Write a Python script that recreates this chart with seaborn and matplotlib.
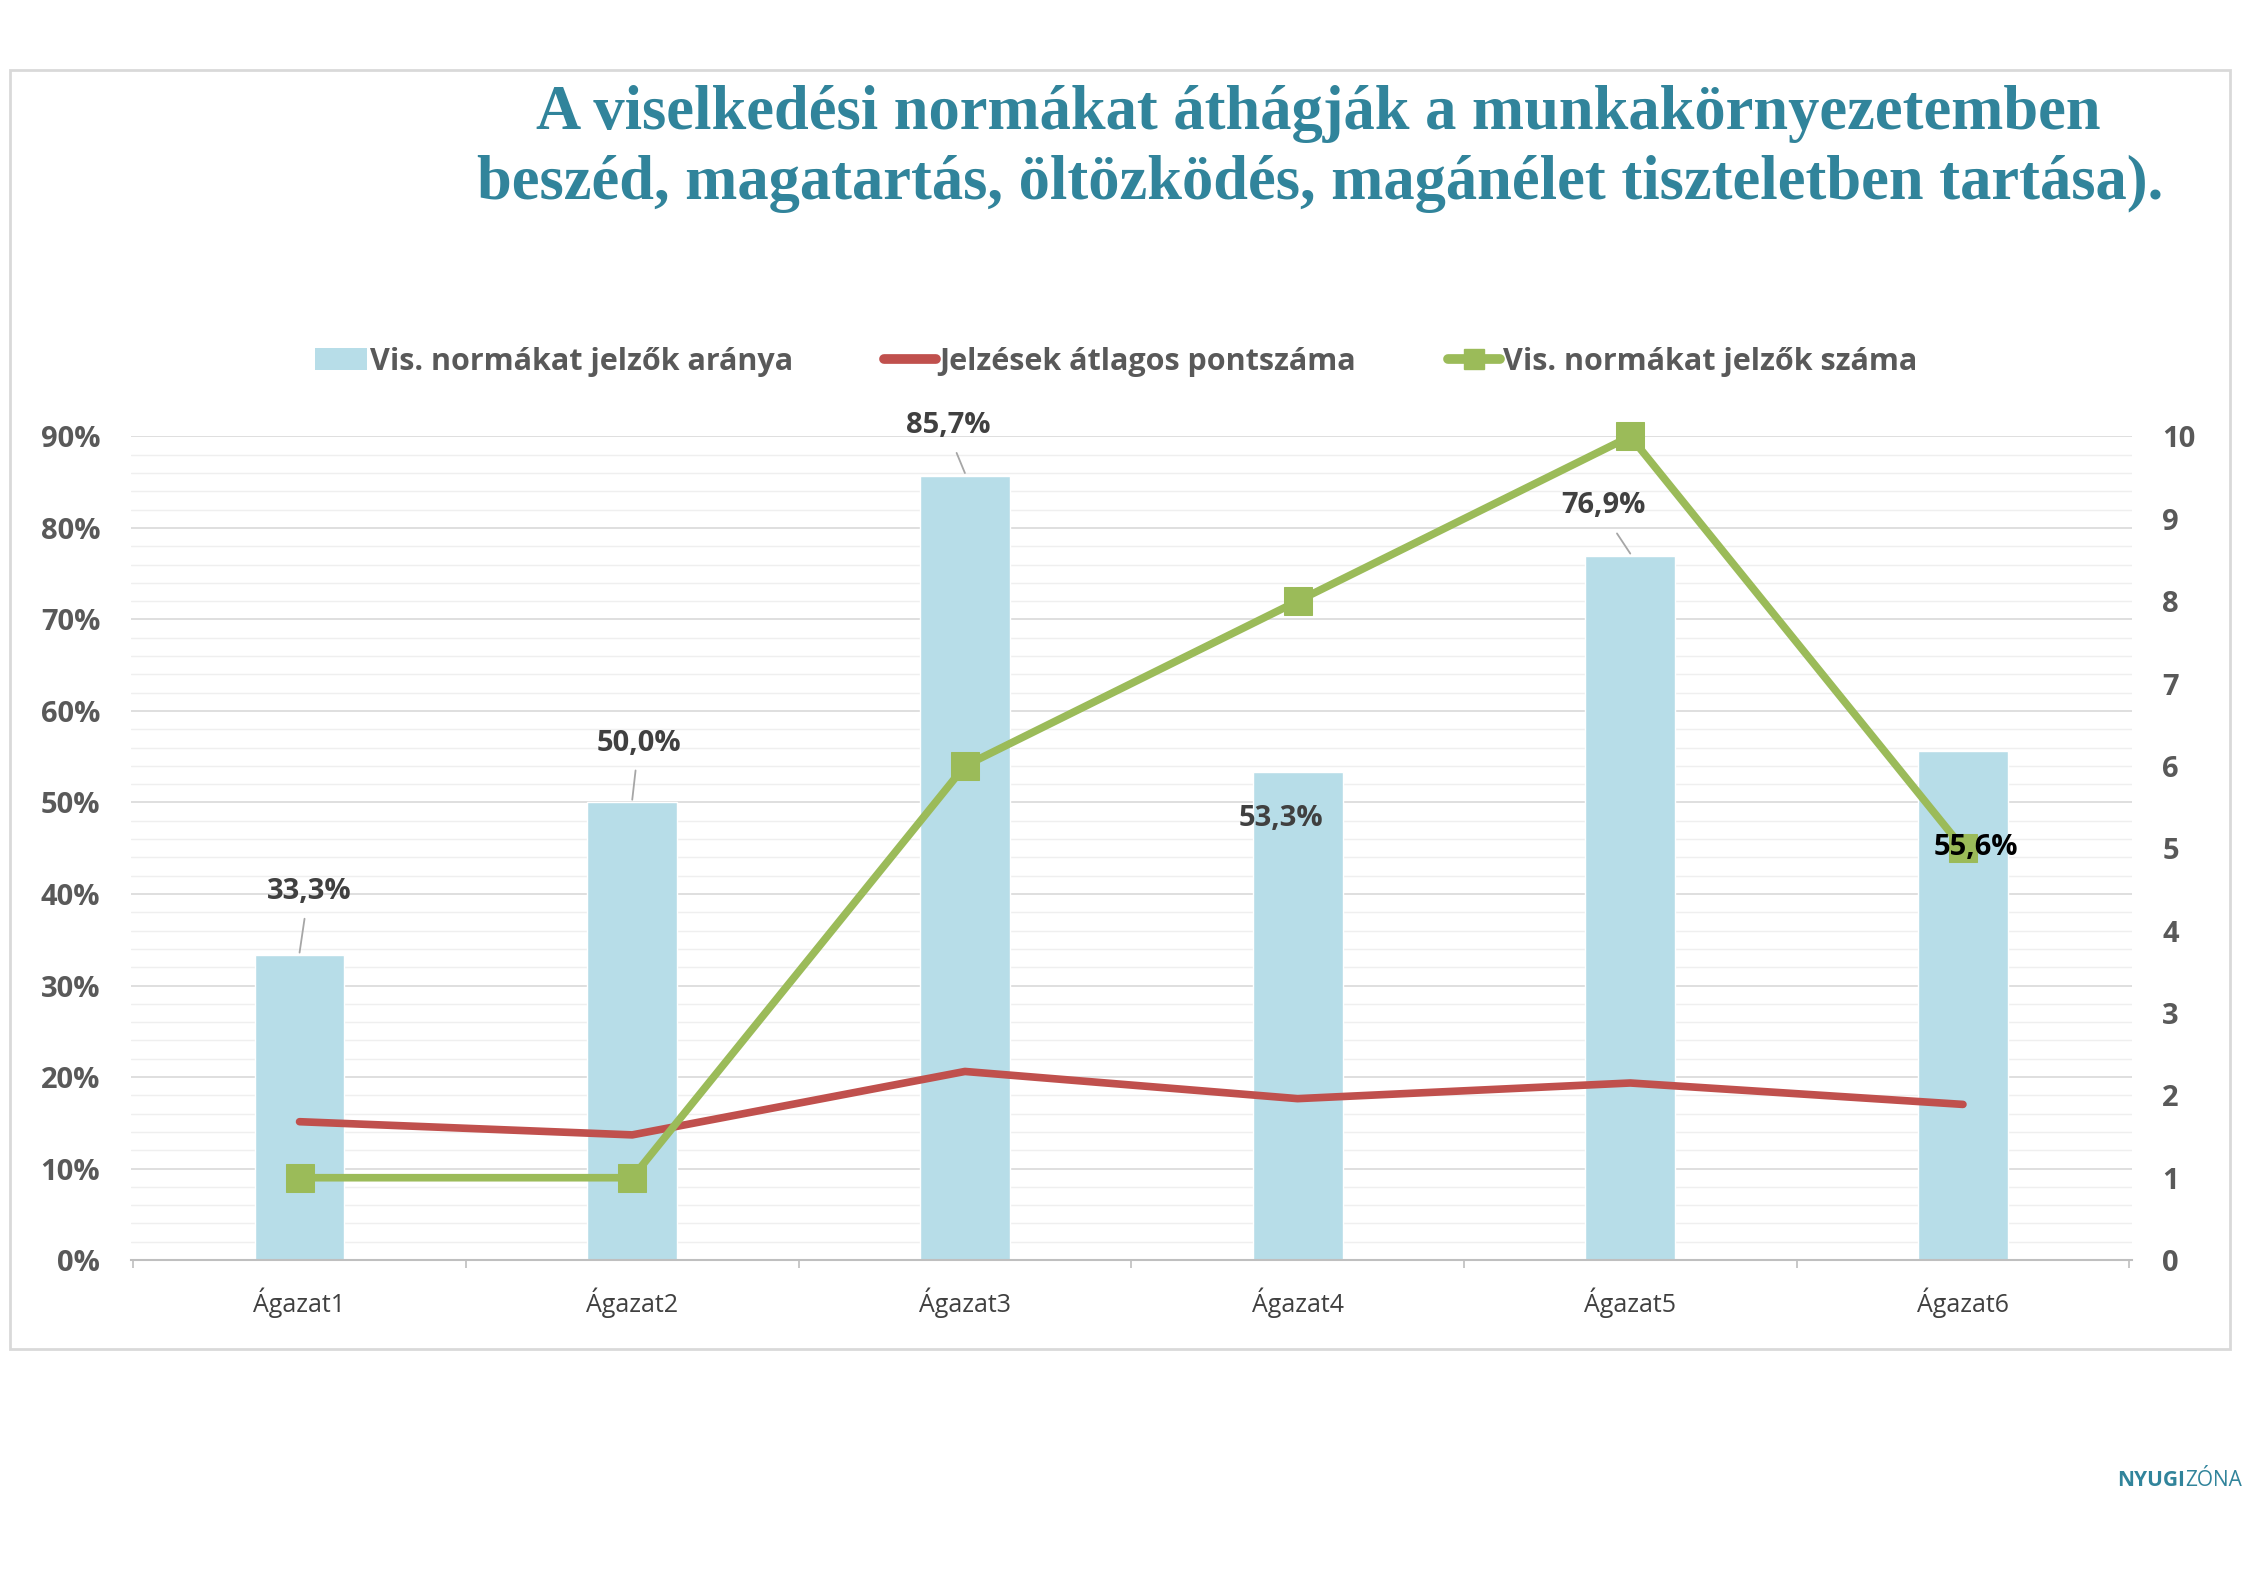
import matplotlib
matplotlib.use("Agg")
import matplotlib.pyplot as plt
import seaborn as sns
import numpy as np
import pandas as pd
from matplotlib.patches import Rectangle
from matplotlib.lines import Line2D
from matplotlib.patches import Patch

categories = ["Ágazat1", "Ágazat2", "Ágazat3", "Ágazat4", "Ágazat5", "Ágazat6"]
arany = [33.3, 50.0, 85.7, 53.3, 76.9, 55.6]
pontszam = [1.68, 1.52, 2.29, 1.96, 2.15, 1.89]
szam = [1, 1, 6, 8, 10, 5]
label_offsets = [(0.03, 7), (0.02, 6.5), (-0.05, 5.5), (-0.05, -5), (-0.08, 5.5), (0.04, -10.5)]

sns.set_theme(style="white")
plt.rcParams['font.family'] = ['Open Sans', 'DejaVu Sans']

BLUE = "#B7DDE8"; RED = "#C0504D"; GREEN = "#9BBB59"; GRAY = "#595959"; TEAL = "#31849B"

fig = plt.figure(figsize=(22.45, 15.87), dpi=100)
fig.patches.append(Rectangle((0.0045, 0.150), 0.989, 0.806, transform=fig.transFigure,
                             fill=False, edgecolor="#D9D9D9", linewidth=2))
ax = fig.add_axes([0.0583, 0.206, 0.8912, 0.519])
df = pd.DataFrame({"cat": categories, "arany": arany, "pont": pontszam, "szam": szam})
sns.barplot(data=df, x="cat", y="arany", color=BLUE, saturation=1, width=0.27, ax=ax, zorder=2)
ax.set_xlim(-0.507, 5.507)
ax.set_ylim(0, 90)
ax.set_yticks(np.arange(0, 91, 10))
ax.set_yticklabels([f"{v}%" for v in range(0, 91, 10)])
ax.set_yticks(np.arange(0, 90, 2), minor=True)
ax.grid(axis="y", which="major", color="#D9D9D9", lw=1.2, zorder=0)
ax.grid(axis="y", which="minor", color="#EFEFEF", lw=1, zorder=0)
ax.set_axisbelow(True)
for s in ["top", "left", "right"]:
    ax.spines[s].set_visible(False)
ax.spines["bottom"].set_color("#BFBFBF")
ax.spines["bottom"].set_linewidth(1.5)
ax.set_xlabel(""); ax.set_ylabel("")
ax.set_xticks(range(6))
ax.set_xticklabels(categories, fontsize=18, color="#404040")
ax.set_xticks(np.arange(-0.5, 6, 1), minor=True)
ax.tick_params(axis="x", which="major", length=0, pad=20)
ax.tick_params(axis="x", which="minor", length=6, color="#BFBFBF", width=1.2, bottom=True)
ax.tick_params(axis="y", which="both", length=0, labelsize=21, labelcolor=GRAY, pad=22)
for t in ax.get_yticklabels():
    t.set_fontweight("bold")

ax2 = ax.twinx()
sns.lineplot(data=df, x="cat", y="pont", color=RED, lw=5.5, ax=ax2, sort=False, zorder=3)
sns.lineplot(data=df, x="cat", y="szam", color=GREEN, lw=5.5, marker="s", markersize=20,
             markeredgecolor=GREEN, ax=ax2, sort=False, zorder=4)
for ln in ax2.lines:
    ln.set_clip_on(False)
ax2.set_ylim(0, 10)
ax2.set_yticks(range(0, 11))
ax2.set_xlim(-0.507, 5.507)
ax2.set_ylabel(""); ax2.set_xlabel("")
for s in ["top", "left", "right", "bottom"]:
    ax2.spines[s].set_visible(False)
ax2.tick_params(axis="y", length=0, labelsize=21, labelcolor=GRAY, pad=22)
for t in ax2.get_yticklabels():
    t.set_fontweight("bold")
ax2.grid(False)

for i, v in enumerate(arany):
    dx, dy = label_offsets[i]
    col = "black" if i == 5 else "#404040"
    ax2.text(i + dx, v + dy, f"{v:.1f}%".replace(".", ","), ha="center", va="center",
             fontsize=21, fontweight="bold", color=col, zorder=6, transform=ax.transData)
    if dy > 0:
        ax2.plot([i - 0.0, i + dx * 0.5], [v + 0.3, v + dy - 3.0],
                 color="#A6A6A6", lw=1.3, zorder=5, transform=ax.transData)

handles = [Patch(facecolor=BLUE, edgecolor="none"),
           Line2D([], [], color=RED, lw=7),
           Line2D([], [], color=GREEN, lw=7, marker="s", markersize=15)]
labels = ["Vis. normákat jelzők aránya", "Jelzések átlagos pontszáma", "Vis. normákat jelzők száma"]
leg = fig.legend(handles, labels, loc="center", bbox_to_anchor=(0.497, 0.772), ncol=3,
                 frameon=False, fontsize=22, handlelength=1.7, handletextpad=0.1, columnspacing=3.0)
for t in leg.get_texts():
    t.set_color(GRAY); t.set_fontweight("bold")

fig.text(0.587, 0.928, "A viselkedési normákat áthágják a munkakörnyezetemben",
         ha="center", va="center", fontsize=45, fontweight="bold", color=TEAL,
         family=["Liberation Serif", "DejaVu Serif"])
fig.text(0.588, 0.884, "beszéd, magatartás, öltözködés, magánélet tiszteletben tartása).",
         ha="center", va="center", fontsize=45, fontweight="bold", color=TEAL,
         family=["Liberation Serif", "DejaVu Serif"])

fig.text(0.943, 0.067, "NYUGI", ha="left", va="center", fontsize=15, fontweight="bold", color=TEAL)
fig.text(0.9735, 0.067, "ZÓNA", ha="left", va="center", fontsize=15, color=TEAL)

fig.savefig("out.png", dpi=100)
